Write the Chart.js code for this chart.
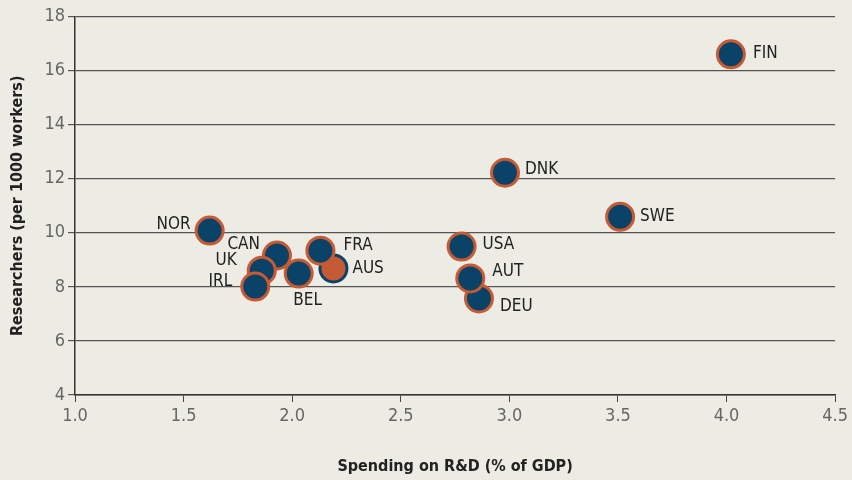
<!DOCTYPE html>
<html>
<head>
<meta charset="utf-8">
<script src="https://cdn.jsdelivr.net/npm/chart.js@4/dist/chart.umd.min.js"></script>
<style>
  html, body { margin: 0; padding: 0; background: #ecece5; }
  #wrap { width: 852px; height: 480px; }
</style>
</head>
<body>
<div id="wrap"><canvas id="rd"></canvas></div>
<script>
// Countries, R&D spending (% of GDP) and researchers per 1000 workers
const countries = ['NOR', 'CAN', 'UK', 'IRL', 'BEL', 'AUS', 'FRA', 'USA', 'DEU', 'AUT', 'DNK', 'SWE', 'FIN'];
const spending = [1.62, 1.93, 1.86, 1.83, 2.03, 2.19, 2.13, 2.78, 2.86, 2.82, 2.98, 3.51, 4.02];
const researchers = [10.08, 9.16, 8.60, 8.01, 8.49, 8.68, 9.34, 9.49, 7.57, 8.31, 12.22, 10.59, 16.60];
const xTicks = [1.0, 1.5, 2.0, 2.5, 3.0, 3.5, 4.0, 4.5];
const yTicks = [4, 6, 8, 10, 12, 14, 16, 18];

const NAVY = '#0b4268';
const RUST = '#c65a34';
const FONT = '"Liberation Sans Narrow", "DejaVu Sans Condensed", "Liberation Sans", sans-serif';

// where each name sits relative to its marker: [dx, dy, align]
const labelPlace = {
  NOR: [-19, -6, 'right'], CAN: [-17, -11, 'right'], UK: [-25, -10, 'right'],
  IRL: [-23, -5, 'right'], BEL: [9, 27, 'center'], FRA: [23, -5, 'left'],
  AUS: [19, 0, 'left'], USA: [21, -2, 'left'], AUT: [22, -7, 'left'],
  DEU: [21, 8, 'left'], DNK: [20, -3, 'left'], SWE: [20, 0, 'left'], FIN: [22, -1, 'left']
};

const pointLabels = {
  id: 'pointLabels',
  afterDatasetsDraw(chart) {
    const ctx = chart.ctx;
    const meta = chart.getDatasetMeta(0);
    ctx.save();
    ctx.font = '17px ' + FONT;
    ctx.fillStyle = '#222';
    ctx.textBaseline = 'middle';
    meta.data.forEach((el, i) => {
      const p = labelPlace[countries[i]];
      ctx.textAlign = p[2];
      ctx.fillText(countries[i], el.x + p[0], el.y + p[1]);
    });
    ctx.restore();
  }
};

const bg = {
  id: 'bg',
  beforeDraw(chart) {
    const ctx = chart.ctx;
    ctx.save();
    ctx.fillStyle = '#ecece5';
    ctx.fillRect(0, 0, chart.width, chart.height);
    ctx.restore();
  }
};

new Chart(document.getElementById('rd'), {
  type: 'scatter',
  data: {
    datasets: [{
      data: countries.map((c, i) => ({ x: spending[i], y: researchers[i] })),
      backgroundColor: countries.map(c => c === 'AUS' ? RUST : NAVY),
      borderColor: countries.map(c => c === 'AUS' ? NAVY : RUST),
      borderWidth: 3,
      pointRadius: 13.5,
      pointHoverRadius: 13.5
    }]
  },
  options: {
    responsive: true,
    maintainAspectRatio: false,
    animation: false,
    layout: { padding: { top: 15, right: 15, left: 4, bottom: 0 } },
    plugins: { legend: { display: false }, tooltip: { enabled: false } },
    scales: {
      x: {
        type: 'linear', min: 1.0, max: 4.5,
        afterBuildTicks: s => { s.ticks = xTicks.map(v => ({ value: v })); },
        afterFit: s => { s.height = 85; },
        grid: { drawOnChartArea: false, drawTicks: true, tickLength: 7, color: '#444', lineWidth: 1 },
        border: { color: '#333', width: 1.5 },
        ticks: {
          color: '#666', padding: 4,
          font: { family: FONT, size: 18 },
          callback: v => v.toFixed(1)
        },
        title: {
          display: true, text: 'Spending on R&D (% of GDP)', color: '#222',
          font: { family: FONT, size: 16, weight: 'bold' }, padding: { top: 22 }
        }
      },
      y: {
        type: 'linear', min: 4, max: 18,
        afterBuildTicks: s => { s.ticks = yTicks.map(v => ({ value: v })); },
        afterFit: s => { s.width = 71; },
        grid: { color: '#555', lineWidth: 1.2, tickLength: 7 },
        border: { color: '#333', width: 1.5 },
        ticks: {
          color: '#666', padding: 3,
          font: { family: FONT, size: 18 }
        },
        title: {
          display: true, text: 'Researchers (per 1000 workers)', color: '#222',
          font: { family: FONT, size: 16, weight: 'bold' }, padding: { bottom: 2 }
        }
      }
    }
  },
  plugins: [bg, pointLabels]
});
</script>
</body>
</html>
